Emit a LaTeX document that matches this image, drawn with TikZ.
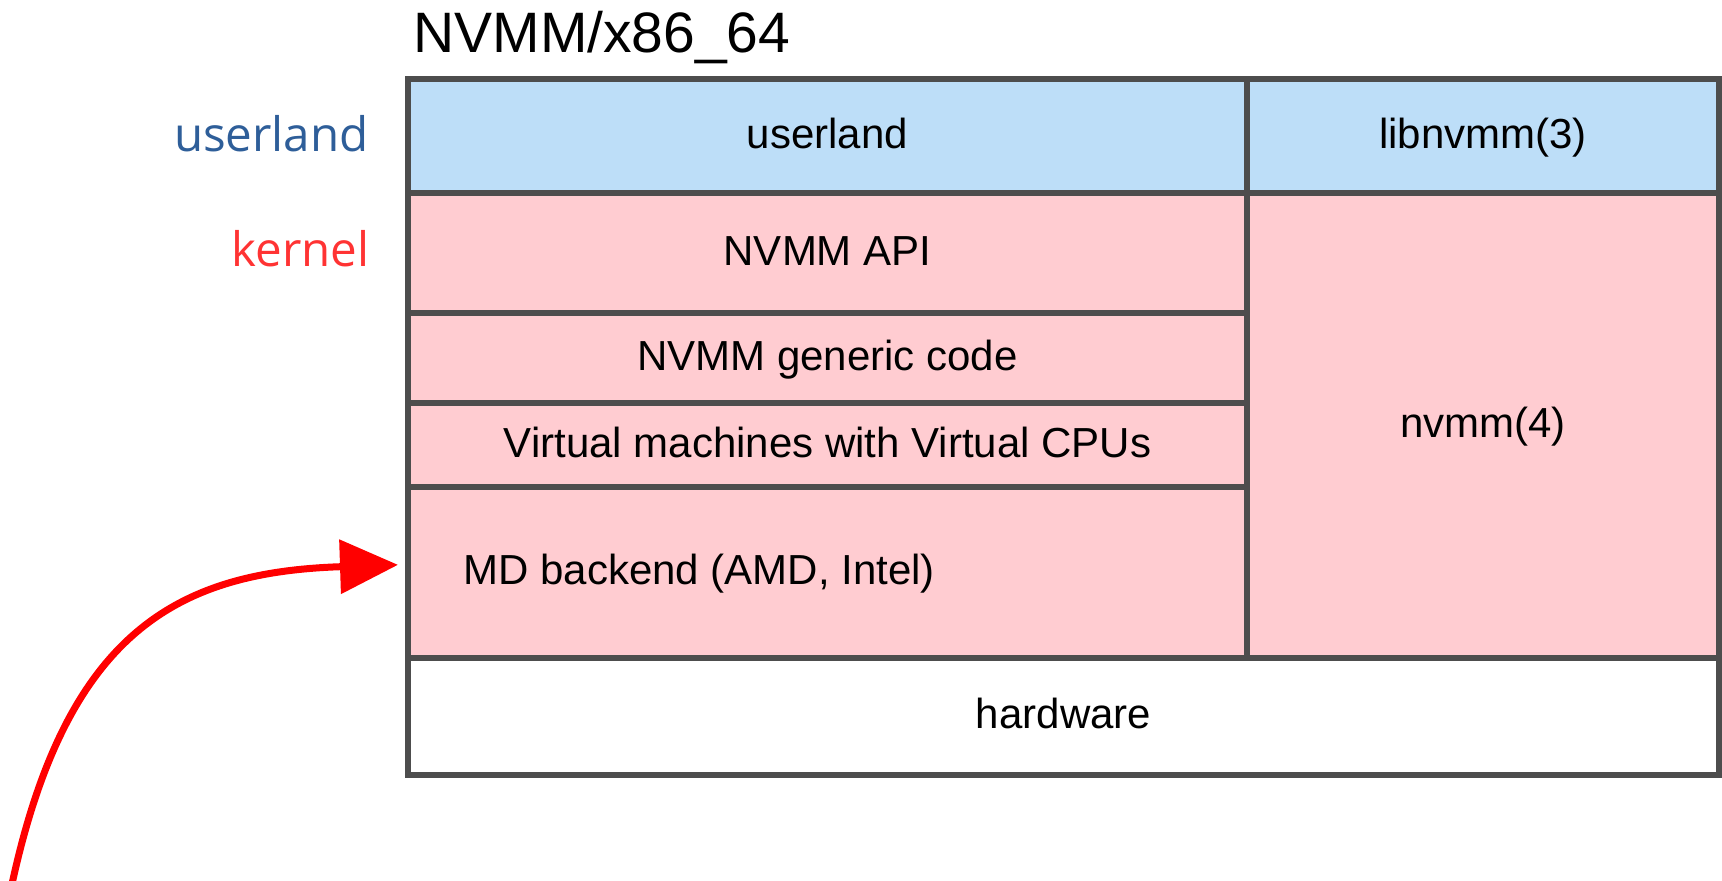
\documentclass[tikz,border=0pt]{standalone}
\usepackage{fontspec}
\setmainfont{Liberation Sans}
\newfontfamily\sidefont{Open Sans}
\usetikzlibrary{arrows.meta,positioning}
\definecolor{userfill}{RGB}{189,222,248}
\definecolor{kernfill}{RGB}{255,204,209}
\definecolor{edgegray}{RGB}{77,77,77}
\definecolor{userblue}{RGB}{46,94,153}
\definecolor{kernred}{RGB}{255,51,51}
\definecolor{arrowred}{RGB}{255,0,0}
\begin{document}
\begin{tikzpicture}[x=0.5pt,y=-0.5pt,
  layer/.style={draw=edgegray,line width=2.7pt,outer sep=0pt,inner sep=0pt,
    anchor=north west,font=\fontsize{21}{25}\selectfont,text height=1.35em,text depth=0.25ex},
  side/.style={inner sep=0pt,anchor=base east,font=\sidefont\fontsize{23.75}{28}\selectfont},
  curvearrow/.style={draw=arrowred,line width=3.5pt,shorten >=5pt,
    -{Triangle[length=29pt,width=26.5pt]}}]
\useasboundingbox (0,0) rectangle (1722,881);
\node[inner sep=0pt,anchor=base west,font=\fontsize{28.5}{32}\selectfont] (title) at (413,53) {NVMM/x86\_64};
\node[layer,fill=userfill,minimum width=419.5pt,minimum height=57pt] (user) at (408,79) {userland};
\node[layer,fill=userfill,minimum width=236pt,minimum height=57pt] (lib) at (user.north east) {libnvmm(3)};
\node[layer,fill=kernfill,minimum width=419.5pt,minimum height=60pt] (api) at (user.south west) {NVMM API};
\node[layer,fill=kernfill,minimum width=419.5pt,minimum height=45pt] (generic) at (api.south west) {NVMM generic code};
\node[layer,fill=kernfill,minimum width=419.5pt,minimum height=42pt] (vcpu) at (generic.south west) {Virtual machines with Virtual CPUs};
\node[layer,fill=kernfill,minimum width=419.5pt,minimum height=85.5pt] (md) at (vcpu.south west) {};
\node[layer,fill=kernfill,minimum width=236pt,minimum height=232.5pt] (nvmm) at (lib.south west) {nvmm(4)};
\node[layer,fill=white,minimum width=655.5pt,minimum height=58.5pt] (hw) at (md.south west) {hardware};
\node[inner sep=0pt,anchor=west,font=\fontsize{21}{25}\selectfont,text height=1.35em,text depth=0.25ex]
  (mdtext) at ([xshift=27.5pt]md.west) {MD backend (AMD, Intel)};
\node[side,text=userblue] (userside) at (369,152) {userland};
\node[side,text=kernred] (kernside) at (370,267) {kernel};
\coordinate (tail) at (12,884);
\draw[curvearrow] (tail) .. controls (67,631) and (178,572) .. ([yshift=4pt]md.west);
\end{tikzpicture}
\end{document}
